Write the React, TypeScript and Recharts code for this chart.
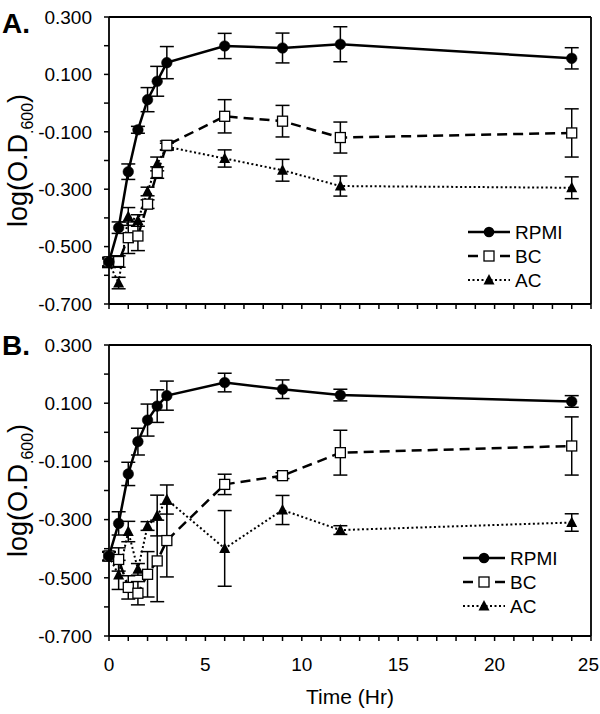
import React from "react"
import { LineChart, Line, XAxis, YAxis, ErrorBar, ReferenceLine, Legend, Label } from "recharts"

// sampling times (hours)
const hours = [0, 0.5, 1, 1.5, 2, 2.5, 3, 6, 9, 12, 24]

// panel A
const rpmiA = [-0.553, -0.434, -0.239, -0.093, 0.012, 0.076, 0.141, 0.199, 0.192, 0.205, 0.156]
const rpmiAErr = [0.015, 0.02, 0.027, 0.012, 0.042, 0.052, 0.056, 0.044, 0.052, 0.061, 0.037]
const bcA = [-0.553, -0.552, -0.469, -0.463, -0.352, -0.242, -0.147, -0.046, -0.063, -0.12, -0.104]
const bcAErr = [0.015, 0.02, 0.055, 0.051, 0.015, 0.02, 0.015, 0.058, 0.055, 0.054, 0.084]
const acA = [-0.558, -0.627, -0.395, -0.409, -0.308, -0.212, -0.152, -0.193, -0.234, -0.289, -0.295]
const acAErr = [0.015, 0.02, 0.031, 0.02, 0.015, 0.024, 0.012, 0.03, 0.038, 0.035, 0.038]

// panel B
const rpmiB = [-0.425, -0.313, -0.143, -0.032, 0.042, 0.09, 0.126, 0.171, 0.148, 0.128, 0.106]
const rpmiBErr = [0.015, 0.04, 0.04, 0.046, 0.055, 0.056, 0.05, 0.032, 0.032, 0.02, 0.02]
const bcB = [-0.425, -0.437, -0.533, -0.553, -0.488, -0.442, -0.372, -0.179, -0.149, -0.07, -0.047]
const bcBErr = [0.015, 0.04, 0.04, 0.04, 0.078, 0.14, 0.125, 0.035, 0.01, 0.077, 0.1]
const acB = [-0.427, -0.49, -0.341, -0.471, -0.322, -0.286, -0.231, -0.399, -0.267, -0.336, -0.31]
const acBErr = [0.015, 0.05, 0.035, 0.02, 0.015, 0.07, 0.05, 0.13, 0.05, 0.015, 0.03]

const seriesNames = ["RPMI", "BC", "AC"]

const xTicks = [0, 1, 2, 3, 4, 5, 6, 7, 8, 9, 10, 11, 12, 13, 14, 15, 16, 17, 18, 19, 20, 21, 22, 23, 24, 25]
const xLabels = [0, 5, 10, 15, 20, 25]
const yTicks = [-0.7, -0.6, -0.5, -0.4, -0.3, -0.2, -0.1, 0, 0.1, 0.2, 0.3]
const yLabels = [-0.7, -0.5, -0.3, -0.1, 0.1, 0.3]

const FONT = "'Liberation Sans', Arial, Helvetica, sans-serif"

function buildRows(rpmi: number[], rpmiErr: number[], bc: number[], bcErr: number[], ac: number[], acErr: number[]) {
  return hours.map((t, i) => ({
    t,
    rpmi: rpmi[i],
    rpmiErr: rpmiErr[i],
    bc: bc[i],
    bcErr: bcErr[i],
    ac: ac[i],
    acErr: acErr[i],
  }))
}

const dataA = buildRows(rpmiA, rpmiAErr, bcA, bcAErr, acA, acAErr)
const dataB = buildRows(rpmiB, rpmiBErr, bcB, bcBErr, acB, acBErr)

const SquareDot = (props: any) => {
  const { cx, cy, index } = props
  if (cx == null || cy == null) return null
  return <rect key={`sq-${index}`} x={cx - 5} y={cy - 5} width={10} height={10} fill="#fff" stroke="#000" strokeWidth={1.3} />
}

const TriangleDot = (props: any) => {
  const { cx, cy, index } = props
  if (cx == null || cy == null) return null
  return <polygon key={`tr-${index}`} points={`${cx},${cy - 6} ${cx - 5.5},${cy + 4.5} ${cx + 5.5},${cy + 4.5}`} fill="#000" />
}

// x tick labels; the last one is kept inside the page edge
const TimeTick = (props: any) => {
  const { x, y, payload, show } = props
  const v = payload.value
  if (!show || !xLabels.includes(v)) return <g />
  const last = v === xLabels[xLabels.length - 1]
  return (
    <text
      x={last ? Math.min(x + 9, 599) : x}
      y={y}
      dy="0.71em"
      textAnchor={last ? "end" : "middle"}
      fontFamily={FONT}
      fontSize={19}
      fill="#000"
    >
      {v}
    </text>
  )
}

function GrowthLegend() {
  return (
    <svg width={135} height={72} style={{ display: "block" }}>
      {seriesNames.map((name, i) => {
        const y = 12 + i * 24
        return (
          <g key={name}>
            {i === 0 && (
              <>
                <line x1={6} x2={48} y1={y} y2={y} stroke="#000" strokeWidth={2.5} />
                <circle cx={27} cy={y} r={5.3} fill="#000" />
              </>
            )}
            {i === 1 && (
              <>
                <line x1={6} x2={16} y1={y} y2={y} stroke="#000" strokeWidth={2.5} />
                <line x1={38} x2={48} y1={y} y2={y} stroke="#000" strokeWidth={2.5} />
                <rect x={22} y={y - 5} width={10} height={10} fill="#fff" stroke="#000" strokeWidth={1.3} />
              </>
            )}
            {i === 2 && (
              <>
                <line x1={6} x2={48} y1={y} y2={y} stroke="#000" strokeWidth={2} strokeDasharray="2 2.5" />
                <polygon points={`27,${y - 6} 21.5,${y + 4.5} 32.5,${y + 4.5}`} fill="#000" />
              </>
            )}
            <text x={53} y={y + 7} fontFamily={FONT} fontSize={19} fill="#000">
              {name}
            </text>
          </g>
        )
      })}
    </svg>
  )
}

const makeYTitle = (letter: string, letterY: number) => (props: any) => {
  const { viewBox } = props
  const cy = viewBox.y + viewBox.height / 2
  const x = 27
  return (
    <g>
      <text x={2} y={letterY} fontFamily={FONT} fontSize={28} fontWeight="bold" fill="#000">
        {letter}
      </text>
      <text x={x} y={cy} transform={`rotate(-90, ${x}, ${cy})`} textAnchor="middle" fontFamily={FONT} fontSize={27} fill="#000">
        log(O.D<tspan fontSize={16} dy={6}>.600</tspan>
        <tspan dy={-6}>)</tspan>
      </text>
    </g>
  )
}

type PanelProps = {
  data: any[]
  letter: string
  letterY: number
  height: number
  margin: { top: number; right: number; bottom: number; left: number }
  xHeight: number
  showX: boolean
  legendTop: number
  legendLeft: number
}

function Panel({ data, letter, letterY, height, margin, xHeight, showX, legendTop, legendLeft }: PanelProps) {
  return (
    <LineChart width={600} height={height} data={data} margin={margin}>
      <XAxis
        dataKey="t"
        type="number"
        domain={[0, 25]}
        ticks={xTicks}
        interval={0}
        height={xHeight}
        tickSize={5}
        tickMargin={17}
        tick={<TimeTick show={showX} />}
        tickLine={{ stroke: "#000", strokeWidth: 1.5 }}
        axisLine={{ stroke: "#000", strokeWidth: 1.8 }}
      >
        {showX && (
          <Label value="Time (Hr)" position="insideBottom" offset={10} style={{ fontSize: 21, fontFamily: FONT, fill: "#000" }} />
        )}
      </XAxis>
      <YAxis
        type="number"
        domain={[-0.7, 0.3]}
        ticks={yTicks}
        interval={0}
        width={109}
        tickSize={5}
        tickMargin={12}
        tickFormatter={(v: number) => (yLabels.includes(v) ? v.toFixed(3) : "")}
        tick={{ fontSize: 19, fill: "#000", fontFamily: FONT }}
        tickLine={{ stroke: "#000", strokeWidth: 1.5 }}
        axisLine={{ stroke: "#000", strokeWidth: 1.8 }}
      >
        <Label content={makeYTitle(letter, letterY)} />
      </YAxis>
      <ReferenceLine y={0.3} stroke="#000" strokeWidth={1.8} />
      <ReferenceLine x={25} stroke="#000" strokeWidth={1.8} />
      <Line
        dataKey="ac"
        name="AC"
        stroke="#000"
        strokeWidth={2}
        strokeDasharray="2 2.5"
        dot={TriangleDot}
        activeDot={false}
        isAnimationActive={false}
      >
        <ErrorBar dataKey="acErr" direction="y" width={7} stroke="#000" strokeWidth={1.5} isAnimationActive={false} />
      </Line>
      <Line
        dataKey="bc"
        name="BC"
        stroke="#000"
        strokeWidth={2.5}
        strokeDasharray="10 6"
        dot={SquareDot}
        activeDot={false}
        isAnimationActive={false}
      >
        <ErrorBar dataKey="bcErr" direction="y" width={7} stroke="#000" strokeWidth={1.5} isAnimationActive={false} />
      </Line>
      <Line
        dataKey="rpmi"
        name="RPMI"
        stroke="#000"
        strokeWidth={2.5}
        dot={{ r: 5.3, fill: "#000", stroke: "#000", strokeWidth: 0.5 }}
        activeDot={false}
        isAnimationActive={false}
      >
        <ErrorBar dataKey="rpmiErr" direction="y" width={7} stroke="#000" strokeWidth={1.5} isAnimationActive={false} />
      </Line>
      <Legend
        layout="horizontal"
        verticalAlign="middle"
        align="center"
        wrapperStyle={{ left: legendLeft, top: legendTop, width: 135 }}
        content={() => <GrowthLegend />}
      />
    </LineChart>
  )
}

export default function App() {
  return (
    <div style={{ position: "absolute", left: 0, top: 0, width: 600, height: 714, background: "#fff" }}>
      <div style={{ position: "absolute", left: 0, top: 0 }}>
        <Panel
          data={dataA}
          letter="A."
          letterY={33}
          height={330}
          margin={{ top: 17, right: 9, bottom: 16, left: 0 }}
          xHeight={10}
          showX={false}
          legendLeft={462}
          legendTop={220}
        />
      </div>
      <div style={{ position: "absolute", left: 0, top: 330 }}>
        <Panel
          data={dataB}
          letter="B."
          letterY={25}
          height={384}
          margin={{ top: 15, right: 9, bottom: 0, left: 0 }}
          xHeight={78}
          showX={true}
          legendLeft={457}
          legendTop={216}
        />
      </div>
    </div>
  )
}
